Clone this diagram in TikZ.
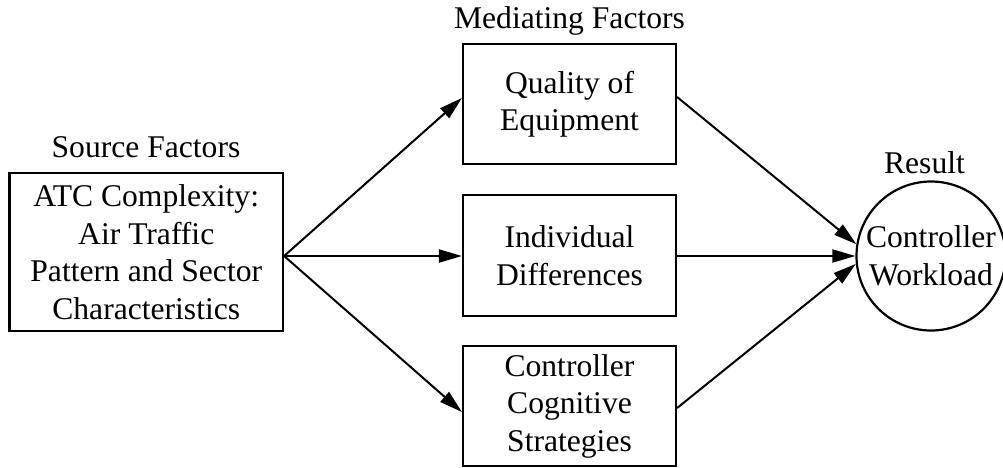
\documentclass[tikz,border=0pt]{standalone}
\usepackage{fontspec}
\setmainfont{Liberation Serif}
\usetikzlibrary{arrows.meta}
\tikzset{
  txt/.style={font=\fontsize{31.6}{37.5}\selectfont, align=center, inner sep=0pt},
  box/.style={txt, draw, line width=2.2pt, rectangle, minimum width=213pt, minimum height=120pt},
  ell/.style={txt, draw, line width=2.2pt, circle, minimum size=149pt},
  lbl/.style={txt, anchor=base},
  arr/.style={line width=2pt, -{Triangle[length=23pt,width=13pt]}}
}
\begin{document}
\begin{tikzpicture}[x=1pt,y=-1pt]
\useasboundingbox (0,0) rectangle (1003,467);
\node[box, minimum width=273.5pt, minimum height=158pt] (src) at (146.25,252) {ATC Complexity:\\Air Traffic\\Pattern and Sector\\Characteristics};
\node[box] (q) at (569.5,104) {Quality of\\Equipment};
\node[box, minimum height=121pt] (ind) at (569.5,255.5) {Individual\\Differences};
\node[box] (ccs) at (569.5,406) {Controller\\Cognitive\\Strategies};
\node[ell] (wl) at (931,256) {Controller\\Workload};
\node[lbl] (srcl) at (146,157) {Source Factors};
\node[lbl] (medl) at (569.5,28) {Mediating Factors};
\node[lbl] (resl) at (924.5,173) {Result};
\draw[arr] ([yshift=-4pt]src.east) -- ([yshift=6pt]q.west);
\draw[arr] ([yshift=-4pt]src.east) -- ([yshift=-0.5pt]ind.west);
\draw[arr] ([yshift=-4pt]src.east) -- ([yshift=-6pt]ccs.west);
\draw[arr] ([yshift=7pt]q.east) -- (wl.171.8);
\draw[arr] ([yshift=-0.5pt]ind.east) -- (wl.180);
\draw[arr] ([yshift=-2pt]ccs.east) -- (wl.186.6);
\end{tikzpicture}
\end{document}
